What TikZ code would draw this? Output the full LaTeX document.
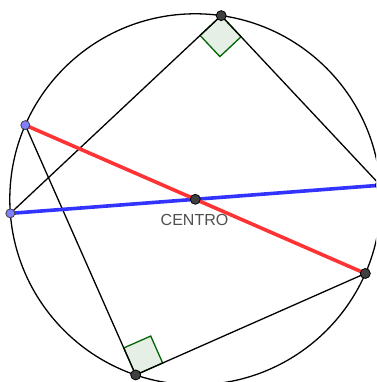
\documentclass[tikz,border=0pt]{standalone}
\usepackage{fontspec}
\setmainfont{Liberation Sans}
\usetikzlibrary{calc}
\definecolor{ptdark}{HTML}{404040}
\definecolor{ptblue}{HTML}{7F7FFF}
\definecolor{ggred}{HTML}{FF3333}
\definecolor{ggblue}{HTML}{3333FF}
\definecolor{anggreen}{HTML}{006400}
\definecolor{angfill}{HTML}{E5EFE5}
\definecolor{labelgrey}{HTML}{505050}
\tikzset{
  pdark/.style={circle,draw=black,fill=ptdark,line width=0.8pt,inner sep=0pt,minimum size=10pt},
  pblue/.style={circle,draw=ptdark,fill=ptblue,line width=0.8pt,inner sep=0pt,minimum size=9pt},
  segline/.style={black,line width=1.3pt},
  diam/.style={line width=3.6pt},
  rangle/.style={draw=anggreen,fill=angfill,line width=1.3pt,line join=miter},
  lbl/.style={text=labelgrey,font=\fontsize{16pt}{18pt}\selectfont,inner sep=0pt}
}
\begin{document}
\begin{tikzpicture}[x=1pt,y=1pt]
\useasboundingbox (0,0) rectangle (376,382);
\fill[white] (0,0) rectangle (376,382);
\clip (0,0) rectangle (376,382);
\coordinate (O) at (195.3pt,182.7pt);
\coordinate (Tp) at ($(O)+(81.97:185.5pt)$);
\coordinate (L2p) at ($(O)+(184.35:185.5pt)$);
\coordinate (Rp) at ($(O)+(4.35:185.5pt)$);
\coordinate (L1p) at ($(O)+(156.43:185.5pt)$);
\coordinate (Rrp) at ($(O)+(-23.57:185.5pt)$);
\coordinate (Bp) at ($(O)+(251.25:185.5pt)$);
% circle
\draw[segline] (O) circle[radius=185.5pt];
% right angle markers
\coordinate (ta) at ($(Tp)!29pt!(L2p)$);
\coordinate (tb) at ($(Tp)!29pt!(Rp)$);
\draw[rangle] (Tp) -- (ta) -- ($(ta)+(tb)-(Tp)$) -- (tb) -- cycle;
\coordinate (ba) at ($(Bp)!29.5pt!(L1p)$);
\coordinate (bb) at ($(Bp)!29.5pt!(Rrp)$);
\draw[rangle] (Bp) -- (ba) -- ($(ba)+(bb)-(Bp)$) -- (bb) -- cycle;
% triangle sides
\draw[segline] (L2p) -- (Tp) -- (Rp);
\draw[segline] (L1p) -- (Bp) -- (Rrp);
% diameters
\draw[diam,ggblue] (L2p) -- (Rp);
\draw[diam,ggred] (L1p) -- (Rrp);
% points
\node[pdark] (T) at (Tp) {};
\node[pdark] (B) at (Bp) {};
\node[pdark] (Rr) at (Rrp) {};
\node[pdark] (R) at (Rp) {};
\node[pdark] (C) at (O) {};
\node[pblue] (L1) at (L1p) {};
\node[pblue] (L2) at (L2p) {};
\node[lbl,anchor=base] (cl) at (194.5,156.5) {CENTRO};
\end{tikzpicture}
\end{document}
